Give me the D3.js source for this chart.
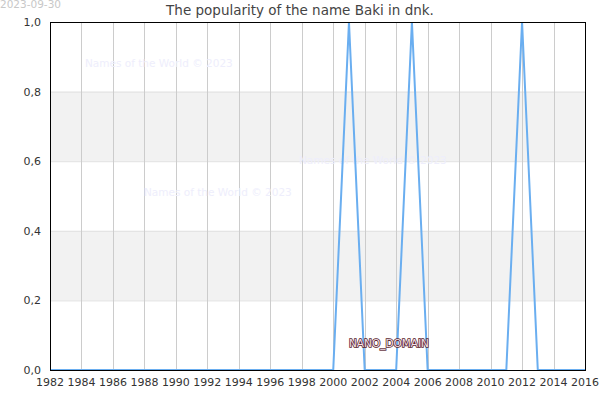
<!DOCTYPE html>
<html>
<head>
<meta charset="utf-8">
<script src="https://cdn.jsdelivr.net/npm/d3@7"></script>
<style>
  body { margin: 0; background: #fff; }
  text { font-family: "DejaVu Sans", sans-serif; }
</style>
</head>
<body>
<script>
// chart data
var years = d3.range(1982, 2017);
var peakYears = [2001, 2005, 2012];
var values = years.map(function(y){ return peakYears.indexOf(y) >= 0 ? 1 : 0; });
var xTicks = d3.range(1982, 2017, 2);
var yTicks = [0, 0.2, 0.4, 0.6, 0.8, 1.0];
var bands = [[0.2, 0.4], [0.6, 0.8]];
var watermarks = [[85, 67], [144, 196], [299, 164]];

var width = 600, height = 400;
var margin = {left: 50, right: 15, top: 22, bottom: 30};

var svg = d3.select("body").append("svg")
    .attr("width", width)
    .attr("height", height);

var x = d3.scaleLinear()
    .domain([1982, 2016])
    .range([margin.left, width - margin.right]);
var y = d3.scaleLinear()
    .domain([0, 1])
    .range([height - margin.bottom, margin.top]);

//shaded bands
svg.selectAll(".band")
    .data(bands)
    .enter()
    .append("rect")
    .attr("x", x(1982))
    .attr("width", x(2016) - x(1982))
    .attr("y", function(d){ return y(d[1]); })
    .attr("height", function(d){ return y(d[0]) - y(d[1]); })
    .attr("fill", "#f2f2f2");

//horizontal grid
svg.selectAll(".hgrid")
    .data(yTicks)
    .enter()
    .append("line")
    .attr("x1", x(1982)).attr("x2", x(2016))
    .attr("y1", function(d){ return y(d) + 0.5; })
    .attr("y2", function(d){ return y(d) + 0.5; })
    .attr("stroke", "#e0e0e0");

//vertical grid
svg.selectAll(".vgrid")
    .data(xTicks)
    .enter()
    .append("line")
    .attr("x1", function(d){ return Math.round(x(d)) + 0.5; })
    .attr("x2", function(d){ return Math.round(x(d)) + 0.5; })
    .attr("y1", y(1)).attr("y2", y(0))
    .attr("stroke", "#cccccc");

//watermarks
svg.selectAll(".wm")
    .data(watermarks)
    .enter()
    .append("text")
    .attr("x", function(d){ return d[0]; })
    .attr("y", function(d){ return d[1]; })
    .attr("font-size", 10.5)
    .attr("fill", "#eeeefc")
    .text("Names of the World © 2023");

//data line
var line = d3.line()
    .x(function(d, i){ return x(years[i]); })
    .y(function(d){ return y(d); });

svg.append("path")
    .datum(values)
    .attr("d", line)
    .attr("fill", "none")
    .attr("stroke", "#6aaef0")
    .attr("stroke-width", 2);

//frame
svg.append("rect")
    .attr("x", x(1982) + 0.5)
    .attr("y", y(1) + 0.5)
    .attr("width", x(2016) - x(1982))
    .attr("height", y(0) - y(1))
    .attr("fill", "none")
    .attr("stroke", "#000");

//axes labels
svg.selectAll(".xlab")
    .data(xTicks)
    .enter()
    .append("text")
    .attr("x", function(d){ return x(d); })
    .attr("y", height - 14)
    .attr("text-anchor", "middle")
    .attr("font-size", 11)
    .attr("fill", "#333")
    .text(function(d){ return d; });

svg.selectAll(".ylab")
    .data(yTicks)
    .enter()
    .append("text")
    .attr("x", 41)
    .attr("y", function(d){ return y(d) + 4; })
    .attr("text-anchor", "end")
    .attr("font-size", 11)
    .attr("fill", "#333")
    .text(function(d){ return d3.format(".1f")(d).replace(".", ","); });

//title
svg.append("text")
    .attr("x", 300)
    .attr("y", 15)
    .attr("text-anchor", "middle")
    .attr("font-size", 13.5)
    .attr("fill", "#444")
    .text("The popularity of the name Baki in dnk.");

//date
svg.append("text")
    .attr("x", 0)
    .attr("y", 8)
    .attr("font-size", 10.5)
    .attr("fill", "#c8c8c8")
    .text("2023-09-30");

//domain label
svg.append("text")
    .attr("x", 349)
    .attr("y", 347)
    .attr("font-size", 10.5)
    .attr("fill", "#f4e4ea")
    .attr("stroke", "#5a1f2e")
    .attr("stroke-width", 1.6)
    .attr("paint-order", "stroke")
    .text("NANO_DOMAIN");
</script>
</body>
</html>
